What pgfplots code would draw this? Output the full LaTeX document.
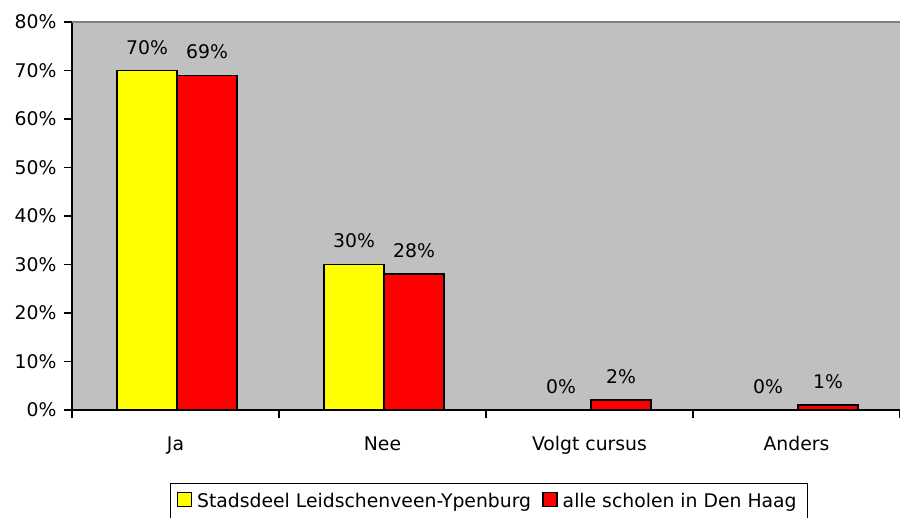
\documentclass[border=0pt]{standalone}
\usepackage{fontspec}
\setmainfont{DejaVu Sans}
\usepackage{pgfplots}
\pgfplotsset{compat=1.18}

\definecolor{plotgray}{HTML}{C0C0C0}
\definecolor{edgegray}{HTML}{808080}
\definecolor{baryellow}{HTML}{FFFF00}
\definecolor{barred}{HTML}{FF0000}
\newcommand{\chartfont}{\fontsize{18.8}{22}\selectfont}

% small framed squares in the legend, as in the spreadsheet original
\pgfplotsset{ybar legend/.style={legend image code/.code={%
  \draw[#1,line width=1.6pt] (0pt,-5pt) rectangle (14pt,9pt);}}}

\begin{document}
\begin{tikzpicture}
\path[use as bounding box] (0,0) rectangle (900pt,518pt);
\begin{axis}[
  at={(72pt,108pt)}, anchor=south west,
  scale only axis, width=828pt, height=388pt,
  ybar=0pt, bar width=60pt,
  xmin=-0.5, xmax=3.5, ymin=0, ymax=80,
  axis background/.style={fill=plotgray},
  axis x line=bottom, axis y line=left,
  axis line style={-, black, line width=1.5pt},
  tick align=outside,
  tick style={black, line width=1.5pt},
  major tick length=8pt,
  xtick={-0.5,0.5,1.5,2.5,3.5}, xticklabels={},
  extra x ticks={0,1,2,3},
  extra x tick labels={Ja,Nee,Volgt cursus,Anders},
  extra x tick style={major tick length=0pt,
    xticklabel style={anchor=base, yshift=-41pt}},
  ytick={0,10,...,80},
  yticklabel={\pgfmathprintnumber{\tick}\%},
  /pgf/number format/assume math mode=true,
  tick label style={font=\chartfont},
  yticklabel style={xshift=-4pt},
  every axis plot/.append style={xshift=1.5pt},
  nodes near coords={\pgfmathprintnumber{\pgfplotspointmeta}\%},
  every node near coord/.append style={font=\chartfont, anchor=base,
    inner sep=0pt, yshift=16.5pt, black},
  legend columns=2,
  legend cell align=left,
  legend style={at={(0.11836,-0.18814)}, anchor=north west,
    draw=black, line width=1pt, font=\chartfont,
    inner xsep=6pt, inner ysep=8pt,
    nodes={inner xsep=5pt},
    /tikz/every even column/.append style={column sep=6pt}},
  extra description/.code={
    \draw[edgegray, line width=2pt] (axis description cs:0,1) -- (axis description cs:1,1);},
]
\addplot[fill=baryellow, draw=black, line width=1.6pt]
  coordinates {(0,70) (1,30) (2,0) (3,0)};
\addplot[fill=barred, draw=black, line width=1.6pt]
  coordinates {(0,69) (1,28) (2,2) (3,1)};
\legend{Stadsdeel Leidschenveen-Ypenburg, alle scholen in Den Haag}
\end{axis}
\end{tikzpicture}
\end{document}
